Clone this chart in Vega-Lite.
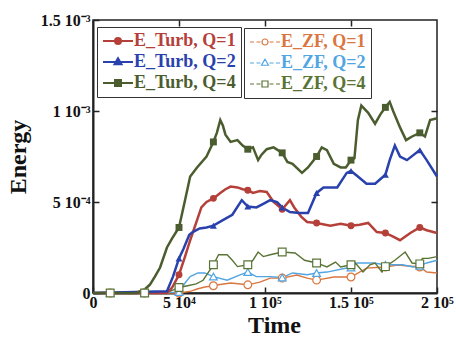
{
  "$schema": "https://vega.github.io/schema/vega-lite/v6.json",
  "width": 344,
  "height": 273,
  "autosize": {"type": "none"},
  "padding": {"left": 93, "top": 20, "right": 19, "bottom": 45},
  "background": "white",
  "config": {
    "view": {"stroke": "#222", "strokeWidth": 1.5},
    "font": "Liberation Serif",
    "axis": {
      "labelFont": "Liberation Serif", "labelFontSize": 16, "labelFontWeight": "bold", "labelColor": "#111",
      "titleFont": "Liberation Serif", "titleFontSize": 24, "titleFontWeight": "bold", "titleColor": "#111",
      "grid": false, "domainColor": "#222", "domainWidth": 2, "tickColor": "#222", "tickWidth": 1.5
    }
  },
  "data": {"values": [
    {"s":"E_Turb, Q=1","t":0,"e":0},
    {"s":"E_Turb, Q=1","t":43000,"e":0},
    {"s":"E_Turb, Q=1","t":46000,"e":0.3e-4},
    {"s":"E_Turb, Q=1","t":50000,"e":1.0e-4,"m":1},
    {"s":"E_Turb, Q=1","t":53500,"e":2.0e-4},
    {"s":"E_Turb, Q=1","t":56500,"e":2.9e-4},
    {"s":"E_Turb, Q=1","t":60500,"e":4.0e-4},
    {"s":"E_Turb, Q=1","t":63000,"e":4.7e-4},
    {"s":"E_Turb, Q=1","t":66000,"e":5.0e-4},
    {"s":"E_Turb, Q=1","t":70000,"e":5.2e-4,"m":1},
    {"s":"E_Turb, Q=1","t":74000,"e":5.5e-4},
    {"s":"E_Turb, Q=1","t":77000,"e":5.7e-4},
    {"s":"E_Turb, Q=1","t":80000,"e":5.85e-4},
    {"s":"E_Turb, Q=1","t":84000,"e":5.8e-4},
    {"s":"E_Turb, Q=1","t":87000,"e":5.7e-4},
    {"s":"E_Turb, Q=1","t":90000,"e":5.65e-4,"m":1},
    {"s":"E_Turb, Q=1","t":93000,"e":5.5e-4},
    {"s":"E_Turb, Q=1","t":97000,"e":5.6e-4},
    {"s":"E_Turb, Q=1","t":101000,"e":5.55e-4},
    {"s":"E_Turb, Q=1","t":105000,"e":5.0e-4},
    {"s":"E_Turb, Q=1","t":110000,"e":4.6e-4,"m":1},
    {"s":"E_Turb, Q=1","t":114500,"e":5.1e-4},
    {"s":"E_Turb, Q=1","t":117000,"e":4.7e-4},
    {"s":"E_Turb, Q=1","t":121000,"e":4.2e-4},
    {"s":"E_Turb, Q=1","t":124500,"e":3.9e-4},
    {"s":"E_Turb, Q=1","t":130000,"e":3.85e-4,"m":1},
    {"s":"E_Turb, Q=1","t":138000,"e":3.7e-4},
    {"s":"E_Turb, Q=1","t":144000,"e":3.8e-4},
    {"s":"E_Turb, Q=1","t":150000,"e":3.7e-4,"m":1},
    {"s":"E_Turb, Q=1","t":155000,"e":3.75e-4},
    {"s":"E_Turb, Q=1","t":160000,"e":3.85e-4},
    {"s":"E_Turb, Q=1","t":165000,"e":3.35e-4},
    {"s":"E_Turb, Q=1","t":170000,"e":3.3e-4,"m":1},
    {"s":"E_Turb, Q=1","t":174500,"e":3.1e-4},
    {"s":"E_Turb, Q=1","t":178500,"e":2.9e-4},
    {"s":"E_Turb, Q=1","t":184500,"e":3.3e-4},
    {"s":"E_Turb, Q=1","t":190000,"e":3.6e-4,"m":1},
    {"s":"E_Turb, Q=1","t":194000,"e":3.45e-4},
    {"s":"E_Turb, Q=1","t":200000,"e":3.3e-4},

    {"s":"E_Turb, Q=2","t":0,"e":0},
    {"s":"E_Turb, Q=2","t":43000,"e":0.1e-4},
    {"s":"E_Turb, Q=2","t":46500,"e":0.9e-4},
    {"s":"E_Turb, Q=2","t":50000,"e":1.9e-4,"m":1},
    {"s":"E_Turb, Q=2","t":52500,"e":2.4e-4},
    {"s":"E_Turb, Q=2","t":56000,"e":3.2e-4},
    {"s":"E_Turb, Q=2","t":58000,"e":3.35e-4},
    {"s":"E_Turb, Q=2","t":62000,"e":3.55e-4},
    {"s":"E_Turb, Q=2","t":66000,"e":3.6e-4},
    {"s":"E_Turb, Q=2","t":70000,"e":3.7e-4,"m":1},
    {"s":"E_Turb, Q=2","t":75500,"e":4.0e-4},
    {"s":"E_Turb, Q=2","t":81000,"e":4.3e-4},
    {"s":"E_Turb, Q=2","t":86500,"e":5.1e-4},
    {"s":"E_Turb, Q=2","t":90000,"e":4.75e-4,"m":1},
    {"s":"E_Turb, Q=2","t":95000,"e":4.7e-4},
    {"s":"E_Turb, Q=2","t":99000,"e":4.9e-4},
    {"s":"E_Turb, Q=2","t":103000,"e":5.1e-4},
    {"s":"E_Turb, Q=2","t":107000,"e":5.0e-4},
    {"s":"E_Turb, Q=2","t":110000,"e":4.7e-4,"m":1},
    {"s":"E_Turb, Q=2","t":114500,"e":4.45e-4},
    {"s":"E_Turb, Q=2","t":120000,"e":4.4e-4},
    {"s":"E_Turb, Q=2","t":125000,"e":4.4e-4},
    {"s":"E_Turb, Q=2","t":130000,"e":5.5e-4,"m":1},
    {"s":"E_Turb, Q=2","t":134000,"e":5.8e-4},
    {"s":"E_Turb, Q=2","t":142000,"e":5.8e-4},
    {"s":"E_Turb, Q=2","t":147500,"e":6.6e-4},
    {"s":"E_Turb, Q=2","t":150000,"e":6.7e-4,"m":1},
    {"s":"E_Turb, Q=2","t":154000,"e":6.4e-4},
    {"s":"E_Turb, Q=2","t":159000,"e":6.0e-4},
    {"s":"E_Turb, Q=2","t":164000,"e":6.0e-4},
    {"s":"E_Turb, Q=2","t":170000,"e":6.5e-4,"m":1},
    {"s":"E_Turb, Q=2","t":172500,"e":7.3e-4},
    {"s":"E_Turb, Q=2","t":175500,"e":8.1e-4},
    {"s":"E_Turb, Q=2","t":178500,"e":7.5e-4},
    {"s":"E_Turb, Q=2","t":182500,"e":7.3e-4},
    {"s":"E_Turb, Q=2","t":190000,"e":7.85e-4,"m":1},
    {"s":"E_Turb, Q=2","t":194000,"e":7.3e-4},
    {"s":"E_Turb, Q=2","t":200000,"e":6.4e-4},

    {"s":"E_Turb, Q=4","t":0,"e":0},
    {"s":"E_Turb, Q=4","t":25000,"e":0},
    {"s":"E_Turb, Q=4","t":30000,"e":0.2e-4},
    {"s":"E_Turb, Q=4","t":33000,"e":0.45e-4},
    {"s":"E_Turb, Q=4","t":36000,"e":0.9e-4},
    {"s":"E_Turb, Q=4","t":39000,"e":1.4e-4},
    {"s":"E_Turb, Q=4","t":43000,"e":2.5e-4},
    {"s":"E_Turb, Q=4","t":46000,"e":3.0e-4},
    {"s":"E_Turb, Q=4","t":50000,"e":3.6e-4,"m":1},
    {"s":"E_Turb, Q=4","t":53500,"e":5.1e-4},
    {"s":"E_Turb, Q=4","t":56500,"e":6.4e-4},
    {"s":"E_Turb, Q=4","t":60500,"e":6.9e-4},
    {"s":"E_Turb, Q=4","t":66000,"e":7.5e-4},
    {"s":"E_Turb, Q=4","t":70000,"e":8.3e-4,"m":1},
    {"s":"E_Turb, Q=4","t":72000,"e":8.8e-4},
    {"s":"E_Turb, Q=4","t":74000,"e":9.5e-4},
    {"s":"E_Turb, Q=4","t":75500,"e":9.2e-4},
    {"s":"E_Turb, Q=4","t":77000,"e":8.7e-4},
    {"s":"E_Turb, Q=4","t":80000,"e":8.3e-4},
    {"s":"E_Turb, Q=4","t":84000,"e":8.4e-4},
    {"s":"E_Turb, Q=4","t":87000,"e":8.1e-4},
    {"s":"E_Turb, Q=4","t":90000,"e":7.9e-4,"m":1},
    {"s":"E_Turb, Q=4","t":93000,"e":8.0e-4},
    {"s":"E_Turb, Q=4","t":96000,"e":7.3e-4},
    {"s":"E_Turb, Q=4","t":98000,"e":7.6e-4},
    {"s":"E_Turb, Q=4","t":101000,"e":7.9e-4},
    {"s":"E_Turb, Q=4","t":105000,"e":8.0e-4},
    {"s":"E_Turb, Q=4","t":110000,"e":7.7e-4,"m":1},
    {"s":"E_Turb, Q=4","t":113000,"e":7.2e-4},
    {"s":"E_Turb, Q=4","t":116000,"e":7.1e-4},
    {"s":"E_Turb, Q=4","t":121500,"e":6.6e-4},
    {"s":"E_Turb, Q=4","t":125000,"e":6.9e-4},
    {"s":"E_Turb, Q=4","t":130000,"e":7.5e-4,"m":1},
    {"s":"E_Turb, Q=4","t":133000,"e":8.0e-4},
    {"s":"E_Turb, Q=4","t":136000,"e":7.85e-4},
    {"s":"E_Turb, Q=4","t":140000,"e":7.1e-4},
    {"s":"E_Turb, Q=4","t":144000,"e":6.9e-4},
    {"s":"E_Turb, Q=4","t":147000,"e":6.9e-4},
    {"s":"E_Turb, Q=4","t":150000,"e":7.3e-4,"m":1},
    {"s":"E_Turb, Q=4","t":152000,"e":7.4e-4},
    {"s":"E_Turb, Q=4","t":154000,"e":9.5e-4},
    {"s":"E_Turb, Q=4","t":156000,"e":10.3e-4},
    {"s":"E_Turb, Q=4","t":160000,"e":9.9e-4},
    {"s":"E_Turb, Q=4","t":164000,"e":9.3e-4},
    {"s":"E_Turb, Q=4","t":167000,"e":9.8e-4},
    {"s":"E_Turb, Q=4","t":170000,"e":10.2e-4,"m":1},
    {"s":"E_Turb, Q=4","t":172500,"e":10.5e-4},
    {"s":"E_Turb, Q=4","t":174500,"e":10.0e-4},
    {"s":"E_Turb, Q=4","t":178500,"e":9.1e-4},
    {"s":"E_Turb, Q=4","t":182000,"e":8.4e-4},
    {"s":"E_Turb, Q=4","t":185500,"e":8.6e-4},
    {"s":"E_Turb, Q=4","t":190000,"e":8.8e-4,"m":1},
    {"s":"E_Turb, Q=4","t":193000,"e":8.6e-4},
    {"s":"E_Turb, Q=4","t":196000,"e":9.5e-4},
    {"s":"E_Turb, Q=4","t":200000,"e":9.6e-4},

    {"s":"E_ZF, Q=1","t":0,"e":0},
    {"s":"E_ZF, Q=1","t":10000,"e":0,"m":1},
    {"s":"E_ZF, Q=1","t":30000,"e":0,"m":1},
    {"s":"E_ZF, Q=1","t":50000,"e":0,"m":1},
    {"s":"E_ZF, Q=1","t":57000,"e":0.1e-4},
    {"s":"E_ZF, Q=1","t":60500,"e":0.22e-4},
    {"s":"E_ZF, Q=1","t":65000,"e":0.33e-4},
    {"s":"E_ZF, Q=1","t":70000,"e":0.4e-4,"m":1},
    {"s":"E_ZF, Q=1","t":72000,"e":0.44e-4},
    {"s":"E_ZF, Q=1","t":80000,"e":0.55e-4},
    {"s":"E_ZF, Q=1","t":90000,"e":0.45e-4,"m":1},
    {"s":"E_ZF, Q=1","t":97000,"e":0.6e-4},
    {"s":"E_ZF, Q=1","t":103000,"e":0.82e-4},
    {"s":"E_ZF, Q=1","t":110000,"e":0.82e-4,"m":1},
    {"s":"E_ZF, Q=1","t":118500,"e":0.99e-4},
    {"s":"E_ZF, Q=1","t":124500,"e":0.82e-4},
    {"s":"E_ZF, Q=1","t":130000,"e":0.71e-4,"m":1},
    {"s":"E_ZF, Q=1","t":140000,"e":0.88e-4},
    {"s":"E_ZF, Q=1","t":150000,"e":0.88e-4,"m":1},
    {"s":"E_ZF, Q=1","t":159000,"e":1.37e-4},
    {"s":"E_ZF, Q=1","t":170000,"e":1.43e-4,"m":1},
    {"s":"E_ZF, Q=1","t":177000,"e":1.54e-4},
    {"s":"E_ZF, Q=1","t":190000,"e":1.43e-4,"m":1},
    {"s":"E_ZF, Q=1","t":194000,"e":1.15e-4},
    {"s":"E_ZF, Q=1","t":200000,"e":1.1e-4},

    {"s":"E_ZF, Q=2","t":0,"e":0},
    {"s":"E_ZF, Q=2","t":10000,"e":0,"m":1},
    {"s":"E_ZF, Q=2","t":30000,"e":0,"m":1},
    {"s":"E_ZF, Q=2","t":50000,"e":0.05e-4,"m":1},
    {"s":"E_ZF, Q=2","t":53500,"e":0.55e-4},
    {"s":"E_ZF, Q=2","t":56500,"e":0.9e-4},
    {"s":"E_ZF, Q=2","t":61000,"e":1.1e-4},
    {"s":"E_ZF, Q=2","t":65000,"e":1.1e-4},
    {"s":"E_ZF, Q=2","t":70000,"e":0.9e-4,"m":1},
    {"s":"E_ZF, Q=2","t":78000,"e":0.7e-4},
    {"s":"E_ZF, Q=2","t":85500,"e":1.0e-4},
    {"s":"E_ZF, Q=2","t":90000,"e":1.15e-4,"m":1},
    {"s":"E_ZF, Q=2","t":95000,"e":0.9e-4},
    {"s":"E_ZF, Q=2","t":103000,"e":0.9e-4},
    {"s":"E_ZF, Q=2","t":110000,"e":0.85e-4,"m":1},
    {"s":"E_ZF, Q=2","t":116000,"e":1.1e-4},
    {"s":"E_ZF, Q=2","t":124500,"e":1.0e-4},
    {"s":"E_ZF, Q=2","t":130000,"e":1.1e-4,"m":1},
    {"s":"E_ZF, Q=2","t":136000,"e":1.15e-4},
    {"s":"E_ZF, Q=2","t":147500,"e":1.37e-4},
    {"s":"E_ZF, Q=2","t":150000,"e":1.4e-4,"m":1},
    {"s":"E_ZF, Q=2","t":153500,"e":1.65e-4},
    {"s":"E_ZF, Q=2","t":163000,"e":1.65e-4},
    {"s":"E_ZF, Q=2","t":170000,"e":1.55e-4,"m":1},
    {"s":"E_ZF, Q=2","t":180000,"e":1.55e-4},
    {"s":"E_ZF, Q=2","t":186000,"e":1.43e-4},
    {"s":"E_ZF, Q=2","t":190000,"e":1.5e-4,"m":1},
    {"s":"E_ZF, Q=2","t":194000,"e":1.65e-4},
    {"s":"E_ZF, Q=2","t":200000,"e":1.8e-4},

    {"s":"E_ZF, Q=4","t":0,"e":0},
    {"s":"E_ZF, Q=4","t":10000,"e":0,"m":1},
    {"s":"E_ZF, Q=4","t":30000,"e":0,"m":1},
    {"s":"E_ZF, Q=4","t":45000,"e":0.1e-4},
    {"s":"E_ZF, Q=4","t":50000,"e":0.3e-4,"m":1},
    {"s":"E_ZF, Q=4","t":55000,"e":0.4e-4},
    {"s":"E_ZF, Q=4","t":60000,"e":0.5e-4},
    {"s":"E_ZF, Q=4","t":64000,"e":0.7e-4},
    {"s":"E_ZF, Q=4","t":70000,"e":1.55e-4,"m":1},
    {"s":"E_ZF, Q=4","t":73000,"e":2.1e-4},
    {"s":"E_ZF, Q=4","t":78000,"e":2.1e-4},
    {"s":"E_ZF, Q=4","t":81000,"e":1.8e-4},
    {"s":"E_ZF, Q=4","t":84000,"e":1.45e-4},
    {"s":"E_ZF, Q=4","t":90000,"e":1.55e-4,"m":1},
    {"s":"E_ZF, Q=4","t":93000,"e":1.8e-4},
    {"s":"E_ZF, Q=4","t":96000,"e":2.25e-4},
    {"s":"E_ZF, Q=4","t":99000,"e":2.0e-4},
    {"s":"E_ZF, Q=4","t":103000,"e":2.1e-4},
    {"s":"E_ZF, Q=4","t":110000,"e":2.25e-4,"m":1},
    {"s":"E_ZF, Q=4","t":117500,"e":2.2e-4},
    {"s":"E_ZF, Q=4","t":123000,"e":1.8e-4},
    {"s":"E_ZF, Q=4","t":130000,"e":1.65e-4,"m":1},
    {"s":"E_ZF, Q=4","t":136000,"e":1.43e-4},
    {"s":"E_ZF, Q=4","t":141000,"e":1.7e-4},
    {"s":"E_ZF, Q=4","t":144000,"e":1.43e-4},
    {"s":"E_ZF, Q=4","t":150000,"e":1.55e-4,"m":1},
    {"s":"E_ZF, Q=4","t":152000,"e":1.7e-4},
    {"s":"E_ZF, Q=4","t":157000,"e":1.15e-4},
    {"s":"E_ZF, Q=4","t":161000,"e":1.55e-4},
    {"s":"E_ZF, Q=4","t":164000,"e":1.65e-4},
    {"s":"E_ZF, Q=4","t":168000,"e":1.15e-4},
    {"s":"E_ZF, Q=4","t":170000,"e":1.45e-4,"m":1},
    {"s":"E_ZF, Q=4","t":175500,"e":1.8e-4},
    {"s":"E_ZF, Q=4","t":181500,"e":2.25e-4},
    {"s":"E_ZF, Q=4","t":185500,"e":1.65e-4},
    {"s":"E_ZF, Q=4","t":190000,"e":1.6e-4,"m":1},
    {"s":"E_ZF, Q=4","t":191500,"e":1.9e-4},
    {"s":"E_ZF, Q=4","t":195000,"e":1.9e-4},
    {"s":"E_ZF, Q=4","t":200000,"e":2.0e-4}
  ]},
  "resolve": {"axis": {"x": "independent", "y": "independent"}},
  "layer": [
    {
      "transform": [{"filter": "indexof(datum.s, 'ZF') >= 0"}],
      "mark": {"type": "line", "strokeWidth": 1.4},
      "encoding": {
        "x": {"field": "t", "type": "quantitative", "scale": {"domain": [0, 200000], "nice": false},
              "axis": {"orient": "top", "labels": false, "title": null, "domain": false, "values": [50000, 100000, 150000], "tickSize": -6}},
        "y": {"field": "e", "type": "quantitative", "scale": {"domain": [0, 0.0015], "nice": false},
              "axis": {"orient": "right", "labels": false, "title": null, "domain": false, "values": [0.0005, 0.001], "tickSize": -6}},
        "stroke": {"field": "s", "type": "nominal",
          "scale": {"domain": ["E_ZF, Q=1", "E_ZF, Q=2", "E_ZF, Q=4"], "range": ["#d9773f", "#52a5e3", "#5a7436"]},
          "legend": {
            "title": null, "orient": "none", "legendX": 151, "legendY": 8, "direction": "vertical",
            "strokeColor": "#333", "fillColor": "white", "padding": 5, "rowPadding": 3,
            "labelFont": "Liberation Serif", "labelFontSize": 18, "labelFontWeight": "bold",
            "symbolSize": 100, "symbolOffset": 7, "labelOffset": 7, "symbolStrokeWidth": 1.2,
            "encode": {
              "symbols": {"update": {
                "shape": {"signal": "datum.value == 'E_ZF, Q=1' ? 'M-3,0L-2.2,0M-1.7,0L-0.9,0M0.9,0L1.7,0M2.2,0L3,0M-0.6,0A0.6,0.6 0 1,0 0.6,0A0.6,0.6 0 1,0 -0.6,0Z' : datum.value == 'E_ZF, Q=2' ? 'M-3,0L-2.2,0M-1.7,0L-0.9,0M0.9,0L1.7,0M2.2,0L3,0M0,-0.75L0.7,0.45L-0.7,0.45Z' : 'M-3,0L-2.2,0M-1.7,0L-0.9,0M0.9,0L1.7,0M2.2,0L3,0M-0.6,-0.6L0.6,-0.6L0.6,0.6L-0.6,0.6Z'"},
                "fill": {"value": "white"},
                "stroke": {"scale": "stroke", "field": "value"},
                "strokeWidth": {"value": 1.2},
                "size": {"value": 100},
                "opacity": {"value": 1}
              }},
              "labels": {"update": {"fill": {"scale": "stroke", "field": "value"}}}
            }
          }
        }
      }
    },
    {
      "transform": [{"filter": "indexof(datum.s, 'Turb') >= 0"}],
      "mark": {"type": "line", "strokeWidth": 2.5},
      "encoding": {
        "x": {"field": "t", "type": "quantitative", "scale": {"domain": [0, 200000], "nice": false},
              "axis": {"orient": "bottom", "title": "Time", "values": [0, 50000, 100000, 150000, 200000], "tickSize": -6, "labelPadding": 7, "titlePadding": 3, "titleX": 181,
                       "labelFlush": false, "labelOverlap": false, "labelBound": false,
                       "labelExpr": "datum.value == 0 ? '0' : datum.value == 50000 ? '5 10⁴' : datum.value == 100000 ? '1 10⁵' : datum.value == 150000 ? '1.5 10⁵' : '2 10⁵'"}},
        "y": {"field": "e", "type": "quantitative", "scale": {"domain": [0, 0.0015], "nice": false},
              "axis": {"orient": "left", "title": "Energy", "values": [0, 0.0005, 0.001, 0.0015], "tickSize": -6, "labelPadding": 9, "titlePadding": 10,
                       "labelFlush": false, "labelOverlap": false, "labelBound": false,
                       "labelExpr": "datum.value == 0 ? '0' : round(datum.value * 10000) == 5 ? '5 10⁻⁴' : round(datum.value * 10000) == 10 ? '1 10⁻³' : '1.5 10⁻³'"}},
        "color": {"field": "s", "type": "nominal",
          "scale": {"domain": ["E_Turb, Q=1", "E_Turb, Q=2", "E_Turb, Q=4"], "range": ["#b5403a", "#2941ad", "#4b5d2f"]},
          "legend": {
            "title": null, "orient": "none", "legendX": 4, "legendY": 7, "direction": "vertical",
            "strokeColor": "#333", "fillColor": "white", "padding": 5, "rowPadding": 3,
            "labelFont": "Liberation Serif", "labelFontSize": 18, "labelFontWeight": "bold",
            "symbolSize": 100, "symbolOffset": 7, "labelOffset": 7, "symbolStrokeWidth": 2,
            "encode": {
              "symbols": {"update": {
                "shape": {"signal": "datum.value == 'E_Turb, Q=1' ? 'M-3,0L3,0M-0.6,0A0.6,0.6 0 1,0 0.6,0A0.6,0.6 0 1,0 -0.6,0Z' : datum.value == 'E_Turb, Q=2' ? 'M-3,0L3,0M0,-0.75L0.7,0.45L-0.7,0.45Z' : 'M-3,0L3,0M-0.6,-0.6L0.6,-0.6L0.6,0.6L-0.6,0.6Z'"},
                "fill": {"scale": "color", "field": "value"},
                "stroke": {"scale": "color", "field": "value"},
                "strokeWidth": {"value": 2},
                "size": {"value": 100},
                "opacity": {"value": 1}
              }},
              "labels": {"update": {"fill": {"scale": "color", "field": "value"}}}
            }
          }
        }
      }
    },
    {
      "transform": [{"filter": "indexof(datum.s, 'Turb') >= 0 && datum.m == 1"}],
      "mark": {"type": "point", "filled": true, "size": 48, "opacity": 1},
      "encoding": {
        "x": {"field": "t", "type": "quantitative", "axis": null},
        "y": {"field": "e", "type": "quantitative", "axis": null},
        "color": {"field": "s", "type": "nominal"},
        "shape": {"field": "s", "type": "nominal", "legend": null,
          "scale": {"domain": ["E_Turb, Q=1", "E_Turb, Q=2", "E_Turb, Q=4", "E_ZF, Q=1", "E_ZF, Q=2", "E_ZF, Q=4"],
                    "range": ["circle", "triangle-up", "square", "circle", "triangle-up", "square"]}}
      }
    },
    {
      "transform": [{"filter": "indexof(datum.s, 'ZF') >= 0 && datum.m == 1"}],
      "mark": {"type": "point", "filled": true, "fill": "white", "size": 60, "strokeWidth": 1.2, "opacity": 1},
      "encoding": {
        "x": {"field": "t", "type": "quantitative", "axis": null},
        "y": {"field": "e", "type": "quantitative", "axis": null},
        "stroke": {"field": "s", "type": "nominal"},
        "shape": {"field": "s", "type": "nominal", "legend": null,
          "scale": {"domain": ["E_Turb, Q=1", "E_Turb, Q=2", "E_Turb, Q=4", "E_ZF, Q=1", "E_ZF, Q=2", "E_ZF, Q=4"],
                    "range": ["circle", "triangle-up", "square", "circle", "triangle-up", "square"]}}
      }
    }
  ]
}
